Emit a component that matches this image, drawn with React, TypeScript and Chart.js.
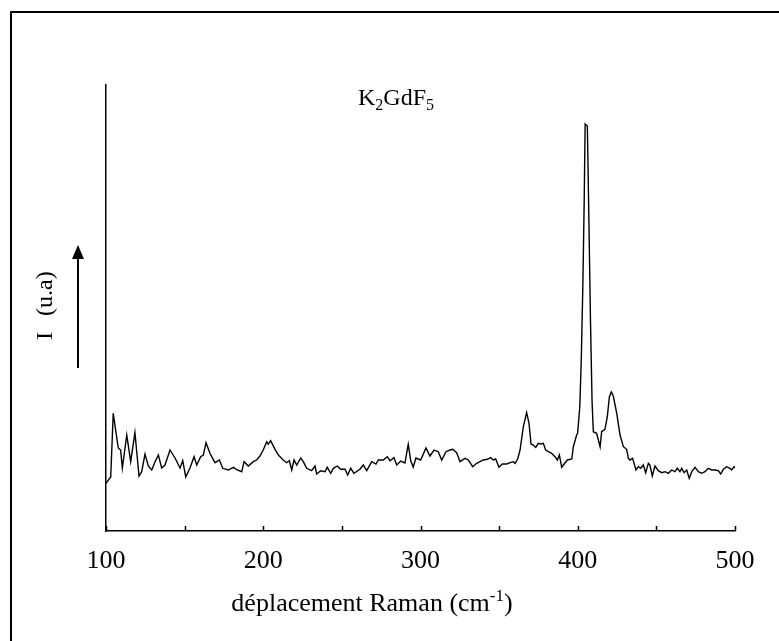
import React, { useEffect, useRef } from "react";
import { Chart, registerables } from "chart.js";

Chart.register(...registerables);

// Raman shift (cm-1)
const ramanShift = [
  100, 103.0, 104.6, 107.8, 109.3, 110.4, 113.2, 115.7, 118.4, 121.0,
  122.7, 124.8, 126.9, 129.1, 131.2, 133.3, 135.4, 137.5, 140.7, 143.9,
  147.1, 148.8, 150.7, 153.4, 156.0, 157.7, 160.2, 161.9, 163.6, 166.1,
  169.3, 172.1, 174.2, 177.8, 181.0, 183.5, 186.3, 187.8, 190.5, 193.7,
  195.8, 197.9, 200.0, 202.2, 203.2, 204.7, 207.5, 209.6, 212.7, 214.9,
  216.6, 218.1, 219.6, 221.3, 223.8, 225.5, 227.6, 230.8, 232.9, 234.0,
  236.5, 239.3, 240.7, 242.9, 244.6, 247.1, 249.3, 252.0, 253.7, 255.6,
  257.7, 261.5, 263.6, 265.8, 269.0, 271.7, 273.2, 276.3, 278.9, 280.6,
  283.1, 284.9, 287.4, 290.1, 292.2, 293.8, 295.4, 297.1, 300.1, 303.5,
  306.0, 308.6, 311.3, 313.5, 316.2, 318.8, 320.5, 323.0, 325.1, 328.3,
  330.4, 333.2, 335.7, 337.8, 339.9, 342.5, 344.6, 346.3, 347.8, 349.9,
  352.0, 354.8, 356.9, 359.0, 360.1, 361.8, 363.3, 365.4, 367.5, 369.0,
  370.3, 371.7, 373.3, 374.9, 376.6, 378.1, 379.6, 381.3, 383.4, 385.5,
  387.0, 388.3, 389.8, 391.3, 393.4, 396.2, 397.2, 399.3, 399.9, 401.3,
  402.3, 403.3, 404.1, 404.7, 406.1, 407.1, 408.1, 409.1, 409.9, 412.0,
  414.2, 415.2, 417.3, 418.8, 420.1, 421.3, 422.6, 424.8, 426.9, 429.0,
  431.1, 432.2, 433.2, 434.9, 437.0, 438.5, 440.0, 441.7, 443.2, 444.9,
  445.9, 447.4, 449.1, 451.2, 453.4, 455.5, 457.6, 459.7, 461.8, 463.3,
  465.0, 466.1, 467.6, 469.3, 470.9, 472.5, 474.6, 476.7, 478.8, 480.9,
  483.0, 485.2, 487.3, 489.4, 490.9, 492.6, 494.7, 496.8, 497.9, 499.4,
  500,
];

// Intensity (arbitrary units)
const intensity = [
  47.7, 54, 117.7, 83, 81, 63, 96, 69.3, 98.3, 55,
  59.3, 77, 65, 61, 69.3, 76, 63, 66, 81, 73,
  63, 70.3, 54, 63, 74.3, 66, 74.3, 76, 88.3, 77.7,
  68.3, 71, 62.7, 61, 63.7, 61, 59.3, 69.3, 65, 69.3,
  71, 75, 81, 89.3, 86.7, 90.3, 81.7, 76, 71, 68.3,
  70.3, 61, 71, 66, 73, 69.3, 62.7, 60.3, 65, 57,
  60.3, 59.3, 63.7, 57.7, 62.7, 65, 61.7, 61.7, 56, 62.7,
  57.7, 61.7, 66, 60.3, 69.3, 67, 71, 71, 74.3, 70.3,
  73.3, 66, 70, 68, 86.7, 70.3, 64, 73, 71, 83,
  75, 81, 79.3, 71, 79.3, 81, 81.7, 78.3, 69.3, 72.7,
  71, 64.3, 67.7, 69.3, 71, 71.7, 73.3, 71, 72, 63.7,
  67, 67, 68.3, 69.3, 67.7, 72, 81, 104.3, 118.3, 107.7,
  87, 86, 83.7, 87.7, 87, 87.7, 81, 79.3, 77.7, 74.3,
  71, 76, 63.7, 67, 71, 72, 84.3, 96, 97.7, 124,
  175, 250, 330, 407, 405, 310, 210, 130, 99.3, 97.7,
  84.3, 99.3, 101.7, 114.3, 134, 139, 135, 117.7, 96, 84.3,
  81.7, 72.7, 71, 72.7, 61, 64.3, 62.7, 66, 58.3, 67.7,
  66, 55, 65, 60.3, 58.3, 59.3, 57.7, 61, 59.3, 62.7,
  59.3, 62.7, 58.3, 61, 52.7, 59.3, 63.7, 59.3, 57.7, 59.3,
  62.7, 61, 61, 60.3, 57, 61.7, 64.3, 62.7, 61, 64.3,
  63,
];

const xMin = 100;
const xMax = 500;
const xStep = 50;
const xLabelEvery = 100;
const yMin = 0;
const yMax = 446;

type Part = { t: string; sub?: boolean; sup?: boolean };
const titleParts: Part[] = [
  { t: "K" }, { t: "2", sub: true }, { t: "GdF" }, { t: "5", sub: true },
];
const xTitleParts: Part[] = [
  { t: "déplacement Raman (cm" }, { t: "-1", sup: true }, { t: ")" },
];
const yLabelLeft = "I";
const yLabelRight = "(u.a)";

const FONT = "'Liberation Serif', 'Times New Roman', serif";

function drawRich(ctx: CanvasRenderingContext2D, parts: Part[], cx: number, baseline: number, size: number) {
  const small = Math.round(size * 0.66);
  const widths = parts.map((p) => {
    ctx.font = `${p.sub || p.sup ? small : size}px ${FONT}`;
    return ctx.measureText(p.t).width;
  });
  const total = widths.reduce((a, b) => a + b, 0);
  let x = cx - total / 2;
  ctx.textAlign = "left";
  ctx.textBaseline = "alphabetic";
  parts.forEach((p, i) => {
    ctx.font = `${p.sub || p.sup ? small : size}px ${FONT}`;
    let y = baseline;
    if (p.sub) y += size * 0.2;
    if (p.sup) y -= size * 0.38;
    ctx.fillText(p.t, x, y);
    x += widths[i];
  });
}

const decorPlugin = {
  id: "decor",
  afterDraw(chart: any) {
    const ctx: CanvasRenderingContext2D = chart.ctx;
    const area = chart.chartArea;
    const xs = chart.scales.x;
    ctx.save();
    ctx.fillStyle = "#000";
    ctx.strokeStyle = "#000";

    // outer frame (left + top edges visible)
    ctx.lineWidth = 2;
    ctx.beginPath();
    ctx.moveTo(11, 641);
    ctx.lineTo(11, 12);
    ctx.lineTo(779, 12);
    ctx.stroke();

    // inward tick marks on x axis
    ctx.lineWidth = 1.5;
    xs.ticks.forEach((t: any) => {
      const px = Math.round(xs.getPixelForValue(t.value)) + 0.5;
      ctx.beginPath();
      ctx.moveTo(px, area.bottom);
      ctx.lineTo(px, area.bottom - 5);
      ctx.stroke();
    });

    // title
    drawRich(ctx, titleParts, 396, 105, 24);

    // x axis title
    drawRich(ctx, xTitleParts, 372, 611, 26);

    // y label (rotated)
    ctx.save();
    ctx.translate(52, 302);
    ctx.rotate(-Math.PI / 2);
    ctx.font = `24px ${FONT}`;
    ctx.textBaseline = "alphabetic";
    ctx.textAlign = "left";
    ctx.fillText(yLabelLeft, -38, 0);
    ctx.fillText(yLabelRight, -14, 0);
    ctx.restore();

    // arrow
    ctx.lineWidth = 2;
    ctx.beginPath();
    ctx.moveTo(78, 368);
    ctx.lineTo(78, 256);
    ctx.stroke();
    ctx.beginPath();
    ctx.moveTo(78, 245);
    ctx.lineTo(72, 259);
    ctx.lineTo(84, 259);
    ctx.closePath();
    ctx.fill();

    ctx.restore();
  },
};

export default function App() {
  const ref = useRef<HTMLCanvasElement | null>(null);
  useEffect(() => {
    if (!ref.current) return;
    const points = ramanShift.map((x, i) => ({ x, y: intensity[i] }));
    const chart = new Chart(ref.current, {
      type: "line",
      data: {
        datasets: [
          {
            data: points,
            borderColor: "#000",
            borderWidth: 1.4,
            pointRadius: 0,
            tension: 0,
            fill: false,
          },
        ],
      },
      options: {
        responsive: false,
        animation: false,
        events: [],
        layout: { padding: { left: 106, right: 44, top: 85, bottom: 0 } },
        plugins: { legend: { display: false }, tooltip: { enabled: false }, title: { display: false } },
        scales: {
          x: {
            type: "linear",
            min: xMin,
            max: xMax,
            border: { display: true, color: "#000", width: 1.5 },
            grid: { display: true, drawOnChartArea: false, drawTicks: false, color: "rgba(0,0,0,0)" },
            ticks: {
              stepSize: xStep,
              autoSkip: false,
              maxRotation: 0,
              color: "#000",
              padding: 15,
              font: { family: FONT, size: 26 },
              callback: (v: any) => (Number(v) % xLabelEvery === 0 ? String(v) : ""),
            },
            afterFit: (s: any) => {
              s.height = 110;
            },
          },
          y: {
            type: "linear",
            min: yMin,
            max: yMax,
            border: { display: true, color: "#000", width: 1.5 },
            grid: { display: false },
            ticks: { display: false },
            afterFit: (s: any) => {
              s.width = 0;
            },
          },
        },
      },
      plugins: [decorPlugin],
    });
    return () => chart.destroy();
  }, []);
  return (
    <div style={{ position: "absolute", left: 0, top: 0, width: 779, height: 641, background: "#fff" }}>
      <canvas ref={ref} width={779} height={641} style={{ display: "block", width: 779, height: 641 }} />
    </div>
  );
}
